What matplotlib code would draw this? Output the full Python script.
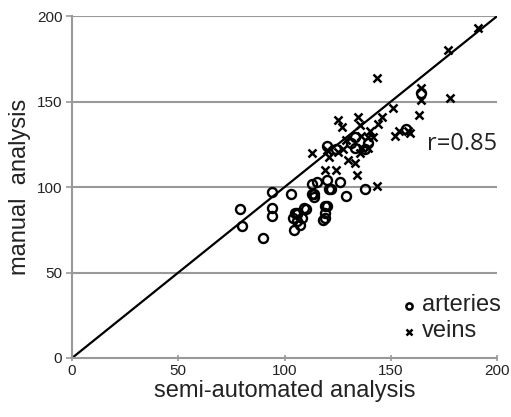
import matplotlib
matplotlib.use("Agg")
import matplotlib.pyplot as plt

plt.rcParams['font.family'] = ['Liberation Sans', 'DejaVu Sans']

arteries_x = [79, 80, 90, 94, 94, 94, 103, 105, 106, 104, 108, 107, 104.5, 110, 106,
              114, 113, 115, 114, 120, 119, 118, 119, 121, 120, 124, 131, 133, 138,
              139, 133, 157, 164, 138, 129, 122, 120, 126, 113, 119, 109, 106]
arteries_y = [87, 77, 70, 97, 88, 83, 96, 85, 84, 82, 82, 78, 75, 87, 85,
              96, 102, 103, 94, 89, 85, 81, 82, 99, 124, 122, 126, 123, 122,
              126, 129, 134, 155, 99, 95, 99, 104, 103, 96, 89, 88, 80]

veins_x = [143.5, 164, 164, 178, 151, 163, 146, 144, 125, 127, 134.5, 135.5, 152, 154,
           158, 159, 140, 141.5, 139, 136, 129, 127.5, 113, 121, 125, 120, 130, 133,
           135.5, 136.5, 119, 124, 134, 143.5, 139, 177, 191]
veins_y = [164, 158, 151, 152, 146, 142, 141, 137, 139, 135, 141, 136, 130, 133,
           133, 131.5, 133, 129, 129, 130, 127.5, 122, 120, 117.5, 120.5, 121.6, 116, 114,
           120, 123, 110, 110, 107, 100.5, 123, 180, 193]

x_ticks = [0, 50, 100, 150, 200]
y_ticks = [0, 50, 100, 150, 200]
r_text = "r=0.85"

fig = plt.figure(figsize=(5.11, 4.17), dpi=100)
ax = fig.add_axes([0.141, 0.1415, 0.832, 0.82])
ax.set_xlim(0, 200)
ax.set_ylim(0, 200)

gray = '#999999'
for yv in y_ticks[1:]:
    ax.axhline(yv, color=gray, lw=1.5, zorder=1)

ax.plot([0, 200], [0, 200], color='black', lw=1.6, zorder=2)

ax.plot(arteries_x, arteries_y, linestyle='none', marker='o', ms=6.5,
        mfc='none', mec='black', mew=1.7, zorder=3)
ax.plot(veins_x, veins_y, linestyle='none', marker='x', ms=6.0,
        mec='black', mew=1.8, zorder=3)

for s in ['top', 'right']:
    ax.spines[s].set_visible(False)
for s in ['left', 'bottom']:
    ax.spines[s].set_color(gray)
    ax.spines[s].set_linewidth(1.5)

ax.set_xticks(x_ticks)
ax.set_yticks(y_ticks)
ax.tick_params(axis='both', colors=gray, labelcolor='#222222', labelsize=11,
               length=4, width=1.2)
ax.tick_params(axis='x', direction='inout', pad=2)
ax.tick_params(axis='y', direction='out', pad=3)

ax.set_xlabel('semi-automated analysis', fontsize=17, labelpad=2, color='#222222')
ax.set_ylabel('manual  analysis', fontsize=17, labelpad=4, color='#222222')

ax.text(167, 125, r_text, fontsize=17, ha='left', va='center',
        family=['Open Sans', 'DejaVu Sans'], color='#222222')

# legend drawn manually
ax.plot([0.793], [0.152], transform=ax.transAxes, marker='o', ms=4.5, mfc='none',
        mec='black', mew=1.8, linestyle='none', clip_on=False)
ax.text(0.822, 0.156, 'arteries', transform=ax.transAxes, fontsize=17,
        va='center', ha='left', color='#222222')
ax.plot([0.793], [0.076], transform=ax.transAxes, marker='x', ms=4.5,
        mec='black', mew=1.8, linestyle='none', clip_on=False)
ax.text(0.822, 0.080, 'veins', transform=ax.transAxes, fontsize=17,
        va='center', ha='left', color='#222222')

fig.savefig('out.png', dpi=100)
